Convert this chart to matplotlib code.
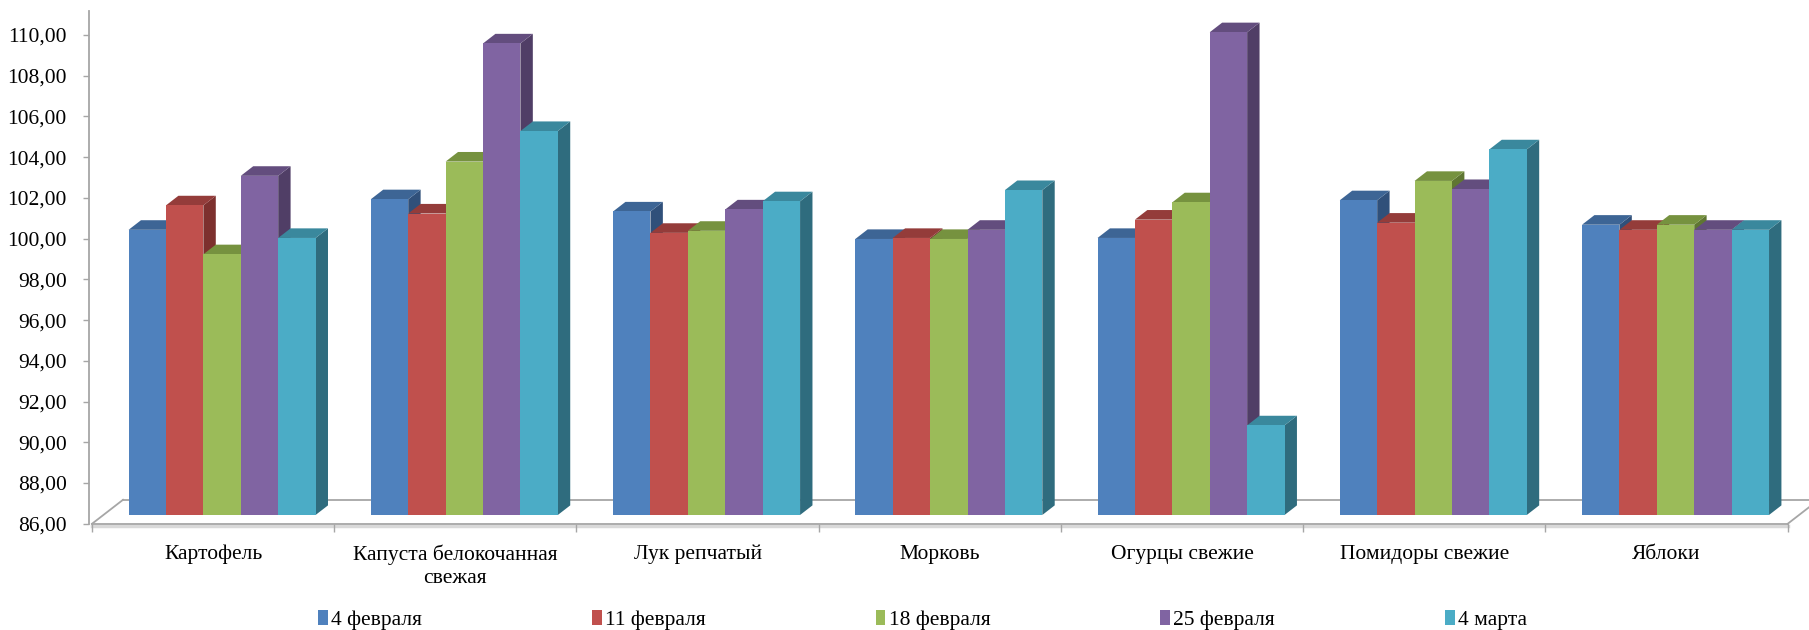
import matplotlib
matplotlib.use('Agg')
import matplotlib.pyplot as plt
from matplotlib.patches import Polygon, Patch

# данные
categories = ['Картофель', 'Капуста белокочанная\nсвежая', 'Лук репчатый', 'Морковь',
              'Огурцы свежие', 'Помидоры свежие', 'Яблоки']
series = ['4 февраля', '11 февраля', '18 февраля', '25 февраля', '4 марта']
values = {
    '4 февраля':  [100.0, 101.5, 100.9, 99.55, 99.6, 101.45, 100.25],
    '11 февраля': [101.2, 100.8, 99.85, 99.6, 100.5, 100.35, 100.0],
    '18 февраля': [98.8, 103.35, 99.95, 99.55, 101.35, 102.4, 100.25],
    '25 февраля': [102.65, 109.15, 101.0, 100.0, 109.7, 102.0, 100.0],
    '4 марта':    [99.6, 104.85, 101.4, 101.95, 90.4, 103.95, 100.0],
}
yticks = [86, 88, 90, 92, 94, 96, 98, 100, 102, 104, 106, 108, 110]
ytick_labels = [f'{v:.2f}'.replace('.', ',') for v in yticks]

front_colors = ['#4F81BD', '#C0504D', '#9BBB59', '#8064A2', '#4BACC6']
top_colors = ['#3D6595', '#943C3A', '#76923F', '#634D7E', '#3A889D']
side_colors = ['#30507A', '#7D302E', '#5F7632', '#503E66', '#2F6C7E']

plt.rcParams['font.family'] = ['Liberation Serif', 'DejaVu Serif']
fs = 15.5

fig = plt.figure(figsize=(18.09, 6.30), dpi=100)
ax = fig.add_axes([89.1 / 1809, 0.1686, (1809 - 89.1) / 1809, 0.9827 - 0.1686])
ymin, ymax = 86, 111.18
ax.set_xlim(-0.012, 7.088)
ax.set_ylim(ymin, ymax)

# глубина пола (в единицах данных) и параметры столбцов
dx, dy = 0.128, 1.178
f0, fd = 0.367, 0.4
bw = 0.1544
n = len(series)

z = 3
for i in range(len(categories)):
    for j, s in enumerate(series):
        v = values[s][i]
        x0 = i + 0.5 - n / 2 * bw + j * bw + f0 * dx - 0.01
        y0 = ymin + f0 * dy
        y1 = v + f0 * dy
        ddx, ddy = fd * dx, fd * dy
        side = Polygon([(x0 + bw, y0), (x0 + bw + ddx, y0 + ddy),
                        (x0 + bw + ddx, y1 + ddy), (x0 + bw, y1)],
                       closed=True, facecolor=side_colors[j], edgecolor='none', zorder=z)
        top = Polygon([(x0, y1), (x0 + bw, y1), (x0 + bw + ddx, y1 + ddy), (x0 + ddx, y1 + ddy)],
                      closed=True, facecolor=top_colors[j], edgecolor='none', zorder=z)
        ax.add_patch(side)
        ax.add_patch(top)
        ax.bar(x0, y1 - y0, width=bw, bottom=y0, align='edge', color=front_colors[j],
               edgecolor='none', zorder=z + 0.5)
        z += 1

# пол
ax.plot([0, 7], [ymin - 0.1, ymin - 0.1], color='#D9D9D9', lw=2.5, zorder=1, clip_on=False)
ax.plot([dx, 7 + dx], [ymin + dy, ymin + dy], color='#A6A6A6', lw=1.3, zorder=1, clip_on=False)
ax.plot([0, dx], [ymin, ymin + dy], color='#A6A6A6', lw=1.3, zorder=1, clip_on=False)
ax.plot([7, 7 + dx], [ymin, ymin + dy], color='#A6A6A6', lw=1.3, zorder=1, clip_on=False)

for sp in ['top', 'right']:
    ax.spines[sp].set_visible(False)
ax.spines['left'].set_color('#A6A6A6')
ax.spines['left'].set_linewidth(1.3)
ax.spines['bottom'].set_color('#A6A6A6')
ax.spines['bottom'].set_linewidth(1.3)
ax.spines['bottom'].set_bounds(0, 7)

ax.set_yticks(yticks)
ax.set_yticklabels(ytick_labels, fontsize=fs)
ax.tick_params(axis='y', length=4, width=1, color='#A6A6A6', pad=12)

ax.set_xticks(range(8))
ax.set_xticklabels([])
ax.tick_params(axis='x', which='major', length=6, width=1, color='#A6A6A6')
ax.set_xticks([i + 0.5 for i in range(len(categories))], minor=True)
ax.set_xticklabels(categories, minor=True, fontsize=fs, linespacing=1.3, va='top')
ax.tick_params(axis='x', which='minor', length=0, pad=15)

handles = [Patch(facecolor=front_colors[j], edgecolor='none') for j in range(n)]
fig.legend(handles, series, loc='center left', bbox_to_anchor=(318 / 1809, 10 / 630),
           ncol=n, frameon=False, fontsize=fs, handlelength=0.45, handleheight=0.7,
           handletextpad=0.15, columnspacing=7.9, borderpad=0, borderaxespad=0)

fig.savefig('out.png', dpi=100)
